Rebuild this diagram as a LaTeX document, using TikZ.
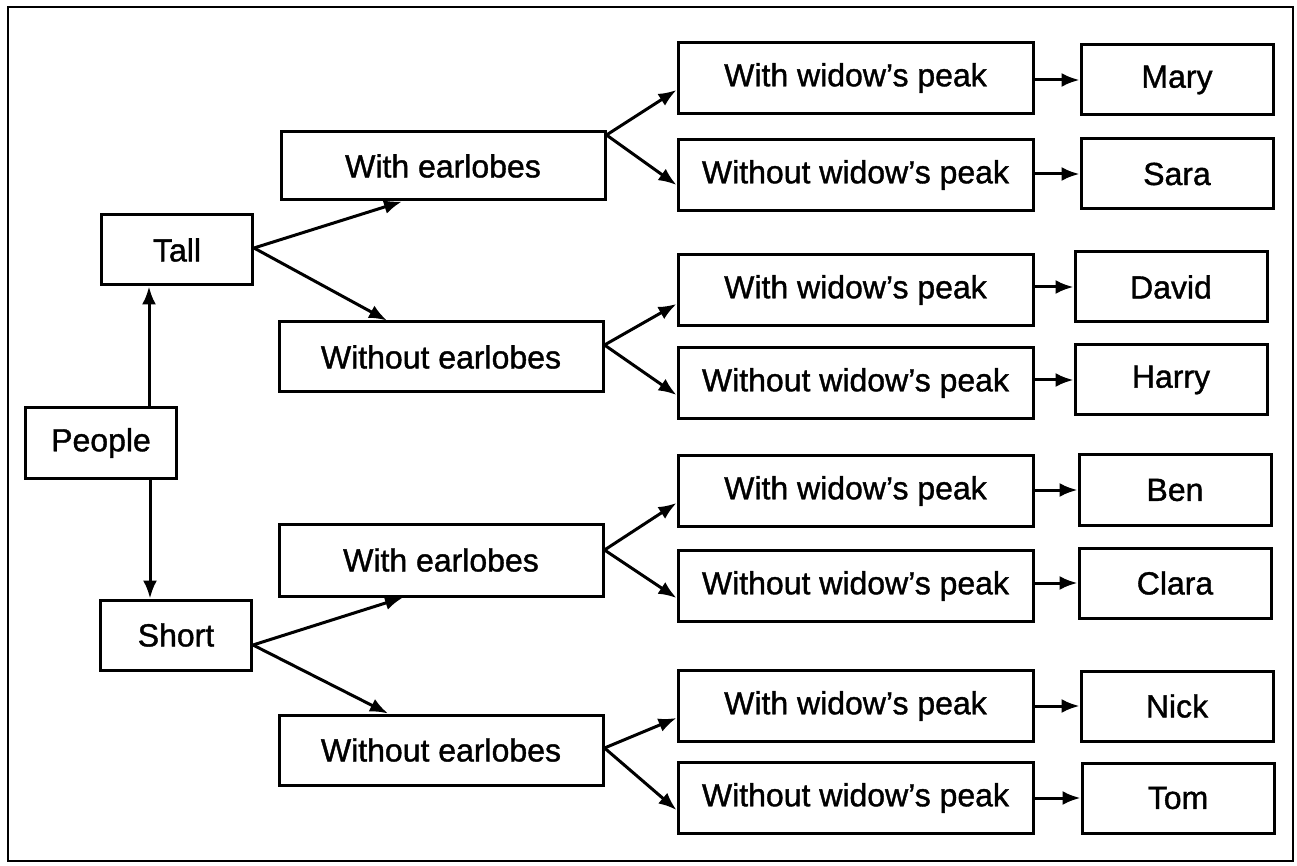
\documentclass[tikz,border=0pt]{standalone}
\usepackage{fontspec}
\setmainfont{Liberation Sans}[FakeBold=1.2]
\usetikzlibrary{arrows.meta}
\begin{document}
\begin{tikzpicture}[x=0.5pt,y=-0.5pt,
  box/.style={draw, line width=1.5pt, inner sep=0pt, font=\fontsize{16}{19}\selectfont},
  lvl1/.style={box, minimum width=75.5pt, minimum height=35pt},
  lvl2/.style={box, minimum width=162pt, minimum height=35pt},
  lvl3/.style={box, minimum width=177.5pt, minimum height=35.5pt},
  lvl4/.style={box, minimum width=96pt, minimum height=35pt},
  arr/.style={line width=1.5pt, -{Latex[length=9pt,width=7pt]}}]
\useasboundingbox (0,0) rectangle (1297,866);
\draw[line width=1pt] (8,7) rectangle (1293,861);

\node[lvl1] (people) at (101,443) {People};
\node[lvl1] (tall)   at (177,250) {Tall};
\node[lvl1] (short)  at (176,635) {Short};

\node[lvl2, minimum height=34pt] (we1)  at (443,166) {With earlobes};
\node[lvl2] (woe1) at (441,357) {Without earlobes};
\node[lvl2, minimum height=36pt] (we2)  at (441,560) {With earlobes};
\node[lvl2] (woe2) at (441,750) {Without earlobes};

\node[lvl3] (wp1) at (855.5,78)  {With widow's peak};
\node[lvl3] (wp2) at (855.5,175) {Without widow's peak};
\node[lvl3] (wp3) at (855.5,290) {With widow's peak};
\node[lvl3] (wp4) at (855.5,383) {Without widow's peak};
\node[lvl3] (wp5) at (855.5,491) {With widow's peak};
\node[lvl3] (wp6) at (855.5,586) {Without widow's peak};
\node[lvl3] (wp7) at (855.5,706) {With widow's peak};
\node[lvl3] (wp8) at (855.5,798) {Without widow's peak};

\node[lvl4] (mary)  at (1177,80)  {Mary};
\node[lvl4] (sara)  at (1177,174) {Sara};
\node[lvl4] (david) at (1171,287) {David};
\node[lvl4] (harry) at (1171,380) {Harry};
\node[lvl4] (ben)   at (1175,490) {Ben};
\node[lvl4] (clara) at (1175,583) {Clara};
\node[lvl4] (nick)  at (1177,706) {Nick};
\node[lvl4] (tom)   at (1178,798) {Tom};

\draw[arr] ([xshift=24pt]people.north) -- ([xshift=24pt]people.north |- tall.south);
\draw[arr] ([xshift=24.5pt]people.south) -- ([xshift=24.5pt]people.south |- short.north);

\draw[arr] ([yshift=1pt]tall.east) -- ([xshift=-20.5pt]we1.south);
\draw[arr] ([yshift=1pt]tall.east) -- ([xshift=-27pt]woe1.north);
\draw[arr] ([yshift=-5pt]short.east) -- ([xshift=-19pt]we2.south);
\draw[arr] ([yshift=-5pt]short.east) -- ([xshift=-26.5pt]woe2.north);

\draw[arr] ([yshift=15.5pt]we1.east) -- ([yshift=-6pt]wp1.west);
\draw[arr] ([yshift=15.5pt]we1.east) -- ([yshift=-5pt]wp2.west);
\draw[arr] ([yshift=6pt]woe1.east) -- ([yshift=-7pt]wp3.west);
\draw[arr] ([yshift=6pt]woe1.east) -- ([yshift=-6pt]wp4.west);
\draw[arr] ([yshift=5pt]we2.east) -- ([yshift=-6pt]wp5.west);
\draw[arr] ([yshift=5pt]we2.east) -- ([yshift=-6pt]wp6.west);
\draw[arr] ([yshift=1pt]woe2.east) -- ([yshift=-6pt]wp7.west);
\draw[arr] ([yshift=1pt]woe2.east) -- ([yshift=-6pt]wp8.west);

\draw[arr] (wp1.east |- mary.west) -- (mary.west);
\draw[arr] (wp2.east |- sara.west) -- (sara.west);
\draw[arr] (wp3.east |- david.west) -- (david.west);
\draw[arr] (wp4.east |- harry.west) -- (harry.west);
\draw[arr] (wp5.east |- ben.west) -- (ben.west);
\draw[arr] (wp6.east |- clara.west) -- (clara.west);
\draw[arr] (wp7.east |- nick.west) -- (nick.west);
\draw[arr] (wp8.east |- tom.west) -- (tom.west);
\end{tikzpicture}
\end{document}
